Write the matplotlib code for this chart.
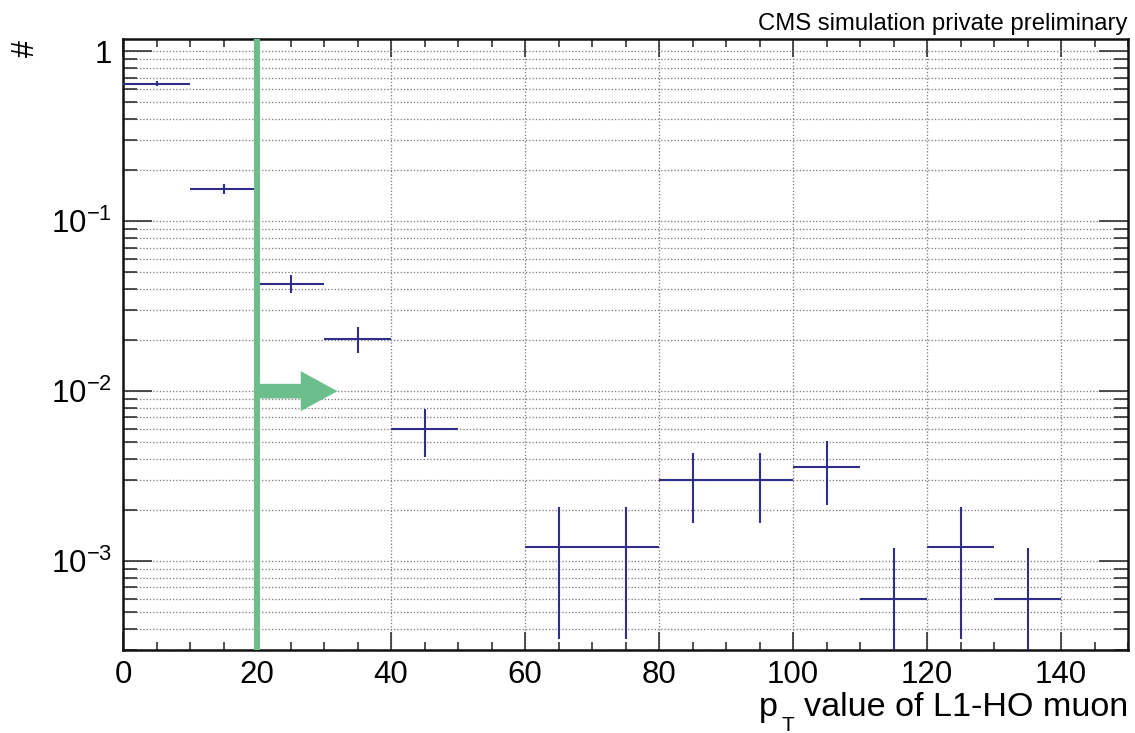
import numpy as np
import matplotlib
matplotlib.use("Agg")
import matplotlib.pyplot as plt
from matplotlib.ticker import FixedLocator, FixedFormatter, LogLocator, NullFormatter, MultipleLocator

plt.rcParams['font.family'] = ['Liberation Sans', 'DejaVu Sans']
plt.rcParams['mathtext.fontset'] = 'custom'
plt.rcParams['mathtext.rm'] = 'Liberation Sans'
plt.rcParams['mathtext.it'] = 'Liberation Sans:italic'
plt.rcParams['mathtext.default'] = 'regular'

# Histogram content: bin centres (GeV), normalised entries and their uncertainties
bin_centres = [5, 15, 25, 35, 45, 65, 75, 85, 95, 105, 115, 125, 135]
bin_half_width = 5
entries = [0.645, 0.155, 0.0428, 0.0203, 0.0060, 0.00121, 0.00121,
           0.00301, 0.00301, 0.0036, 0.0006, 0.00121, 0.0006]
errors = [0.0197, 0.0096, 0.0052, 0.0035, 0.0019, 0.00086, 0.00086,
          0.00134, 0.00134, 0.00147, 0.0006, 0.00086, 0.0006]

pt_cut = 20
arrow_end = 32
arrow_level = 0.01

x_ticks = [0, 20, 40, 60, 80, 100, 120, 140]
y_ticks = [1e-3, 1e-2, 1e-1, 1]
y_tick_labels = [r'$10^{-3}$', r'$10^{-2}$', r'$10^{-1}$', '1']

navy = '#2f2e88'
green = '#6cbf8c'

W, H = 1135, 733
fig = plt.figure(figsize=(W / 100, H / 100), dpi=100)
ax = fig.add_axes([123 / W, 1 - 650 / H, 1005 / W, 611 / H])

ax.set_yscale('log', nonpositive='clip')
ax.set_xlim(0, 150)
ax.set_ylim(3.0e-4, 1.18)

# grid: dotted, vertical at major x ticks, horizontal at all decade sub-ticks
ax.set_axisbelow(True)
ax.xaxis.set_major_locator(FixedLocator(x_ticks))
ax.xaxis.set_minor_locator(MultipleLocator(5))
ax.yaxis.set_major_locator(FixedLocator(y_ticks))
ax.yaxis.set_major_formatter(FixedFormatter(y_tick_labels))
ax.yaxis.set_minor_locator(LogLocator(base=10, subs=np.arange(2, 10)))
ax.yaxis.set_minor_formatter(NullFormatter())
grid_style = dict(color='#808080', linestyle=(0, (1, 1.5)), linewidth=0.95)
ax.grid(True, axis='x', which='major', **grid_style)
ax.grid(True, axis='y', which='both', **grid_style)

ax.tick_params(axis='both', which='both', direction='in', top=True, right=True,
               labelsize=22.5, width=1.1, color='#222222')
ax.tick_params(axis='y', which='major', length=21, pad=8)
ax.tick_params(axis='y', which='minor', length=10)
ax.tick_params(axis='x', which='major', length=13, pad=7)
ax.tick_params(axis='x', which='minor', length=6)
for sp in ax.spines.values():
    sp.set_linewidth(1.8)
    sp.set_color('#111111')

# histogram points with bin-width and statistical error bars
ax.errorbar(bin_centres, entries, xerr=bin_half_width, yerr=errors, fmt='none',
            ecolor=navy, elinewidth=1.5, capsize=0, zorder=3)

# pT threshold line and direction arrow
ax.axvline(pt_cut, color=green, linewidth=4.4, zorder=4)
ax.annotate('', xy=(arrow_end, arrow_level), xytext=(pt_cut, arrow_level),
            arrowprops=dict(arrowstyle='simple,head_length=1.65,head_width=1.8,tail_width=0.66',
                            color=green, shrinkA=0, shrinkB=0, mutation_scale=16,
                            linewidth=0),
            zorder=5)

fig.text(1127 / W, 1 - 30 / H, 'CMS simulation private preliminary',
         ha='right', va='baseline', fontsize=17.2)

# x-axis title: "p" with a low-set subscript "T", then the rest of the label
fig.text(1128 / W, 1 - 716 / H, 'value of L1-HO muon',
         ha='right', va='baseline', fontsize=24.6)
fig.text(759 / W, 1 - 716 / H, 'p', ha='left', va='baseline', fontsize=24.6)
fig.text(782 / W, 1 - 731 / H, 'T', ha='left', va='baseline', fontsize=15)

fig.text(26 / W, 1 - 49 / H, '#', rotation=90, ha='center', va='center',
         fontsize=22)

fig.savefig('out.png', dpi=100)
